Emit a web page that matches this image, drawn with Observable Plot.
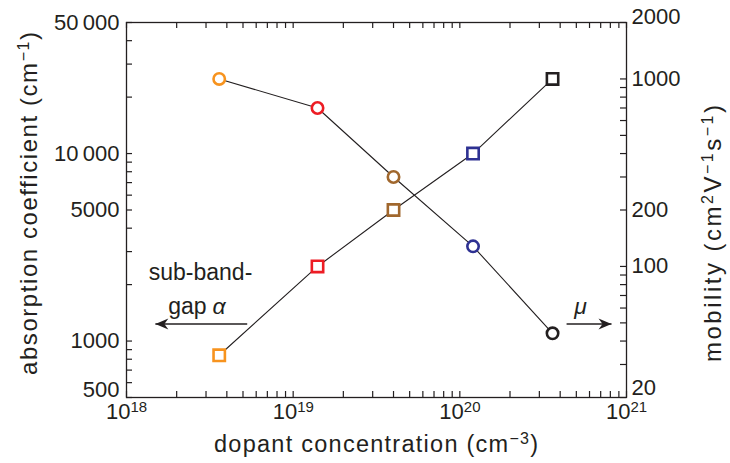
<!DOCTYPE html>
<html>
<head>
<meta charset="utf-8">
<script src="https://cdn.jsdelivr.net/npm/d3@7"></script>
<script src="https://cdn.jsdelivr.net/npm/@observablehq/plot@0.6"></script>
<style>
  html, body { margin: 0; padding: 0; background: #fff; }
  svg { display: block; }
</style>
</head>
<body>
<div id="chart"></div>
<script>
// ---- data ----
const concentration = [3.6e18, 1.4e19, 4.0e19, 1.2e20, 3.6e20];   // cm^-3
const absorption    = [840, 2500, 5000, 10000, 25000];            // cm^-1 (squares, left axis)
const mobility      = [1000, 700, 300, 128, 44];                  // cm2/Vs (circles, right axis)
const pointColors   = ["#f7931e", "#ed1c24", "#a0672d", "#2e3192", "#231f20"];

// axis tick labels
const leftTickLabels  = [1000, 5000, 10000, 50000];
const leftEndLabels   = [500];
const rightTickLabels = [100, 200, 1000];
const rightTopLabels  = [2000];
const rightEndLabels  = [20];
const xTickLabels     = [1e18, 1e19, 1e20, 1e21];

// right axis (20–2000) shares the left axis (500–50000) log scale
const mobilityFactor = 25;

// annotations (data coordinates)
const subBandText = ["sub-band-"];
const subBandPos  = [2.78e18, 2310];
const gapPos      = [3.15e18, 1520];
const muPos       = [5.3e20, 1520];
const arrowLeft   = [5.3e18, 1.49e18, 1233];
const arrowRight  = [4.37e20, 8.13e20, 1233];

const ink = "#231f20";
const font = "'Liberation Sans', Arial, Helvetica, sans-serif";

function logTicks(lo, hi) {
  const out = [];
  for (let e = Math.floor(Math.log10(lo)); e <= Math.ceil(Math.log10(hi)); e++)
    for (let m = 1; m < 10; m++) {
      const v = m * Math.pow(10, e);
      if (v >= lo * 0.999 && v <= hi * 1.001) out.push(v);
    }
  return out;
}
const xMinor = logTicks(1e18, 1e21);
const leftMinor = logTicks(500, 50000);
const rightMinor = logTicks(20, 2000).map(d => d * mobilityFactor);

const rows = concentration.map((c, i) => ({
  conc: c, abs: absorption[i], mob: mobility[i] * mobilityFactor, color: pointColors[i]
}));

const W = 730, H = 463;
const mL = 126, mR = 104, mT = 22, mB = 66;
const plotW = W - mL - mR, plotH = H - mT - mB;
const tickLen = 6;

const fmtThousands = d => d >= 10000 ? d3.format(",")(d).replace(",", "\u2009") : String(d);

const arrowHead = {
  draw(ctx) {
    const L = 13, Wd = 5.5, notch = 4;
    ctx.moveTo(0, 0);
    ctx.lineTo(-L, -Wd);
    ctx.lineTo(-L + notch, 0);
    ctx.lineTo(-L, Wd);
    ctx.closePath();
  }
};

const chart = Plot.plot({
  width: W, height: H,
  marginLeft: mL, marginRight: mR, marginTop: mT, marginBottom: mB,
  style: { fontFamily: font, fontSize: "22px", color: ink, background: "#fff" },
  x: { type: "log", domain: [1e18, 1e21], axis: null },
  y: { type: "log", domain: [500, 50000], axis: null },
  color: { type: "identity" },
  marks: [
    // minor ticks, pointing inward on all four sides
    Plot.tickY(leftMinor, { y: d => d, insetRight: plotW - tickLen, stroke: ink, strokeWidth: 1.2 }),
    Plot.tickY(rightMinor, { y: d => d, insetLeft: plotW - tickLen, stroke: ink, strokeWidth: 1.2 }),
    Plot.tickX(xMinor, { x: d => d, insetTop: plotH - tickLen, stroke: ink, strokeWidth: 1.2 }),
    Plot.tickX(xMinor, { x: d => d, insetBottom: plotH - tickLen, stroke: ink, strokeWidth: 1.2 }),
    Plot.frame({ stroke: ink, strokeWidth: 1.3 }),

    // left axis labels
    Plot.axisY({ anchor: "left", ticks: leftTickLabels, tickFormat: fmtThousands, tickSize: 0, tickPadding: 7, label: null, fontSize: 22, fill: ink }),
    Plot.axisY({ anchor: "left", ticks: leftEndLabels, tickFormat: fmtThousands, tickSize: 0, tickPadding: 7, label: null, fontSize: 22, fill: ink, dy: -8 }),
    // right axis labels (mobility)
    Plot.axisY({ anchor: "right", ticks: rightTickLabels.map(d => d * mobilityFactor), tickFormat: d => String(Math.round(d / mobilityFactor)), tickSize: 0, tickPadding: 5, label: null, fontSize: 22, fill: ink }),
    Plot.axisY({ anchor: "right", ticks: rightTopLabels.map(d => d * mobilityFactor), tickFormat: d => String(Math.round(d / mobilityFactor)), tickSize: 0, tickPadding: 5, label: null, fontSize: 22, fill: ink, dy: -6 }),
    Plot.axisY({ anchor: "right", ticks: rightEndLabels.map(d => d * mobilityFactor), tickFormat: d => String(Math.round(d / mobilityFactor)), tickSize: 0, tickPadding: 5, label: null, fontSize: 22, fill: ink, dy: -10 }),

    // x axis labels 10^n
    Plot.text(xTickLabels, { x: d => d, frameAnchor: "bottom", text: () => "10", textAnchor: "end", dx: 4, dy: 21, fontSize: 22, fill: ink }),
    Plot.text(xTickLabels, { x: d => d, frameAnchor: "bottom", text: d => String(Math.round(Math.log10(d))), textAnchor: "start", dx: 4, dy: 14, fontSize: 15, fill: ink }),

    // data
    Plot.line(rows, { x: "conc", y: "abs", stroke: ink, strokeWidth: 1.1 }),
    Plot.line(rows, { x: "conc", y: "mob", stroke: ink, strokeWidth: 1.1 }),
    Plot.dot(rows, { x: "conc", y: "abs", symbol: "square", r: 6.4, stroke: "color", fill: "white", strokeWidth: 2.6 }),
    Plot.dot(rows, { x: "conc", y: "mob", symbol: "circle", r: 5.7, stroke: "color", fill: "white", strokeWidth: 2.6 }),

    // annotations
    Plot.text(subBandText, { x: () => subBandPos[0], y: () => subBandPos[1], text: d => d, textAnchor: "middle", fontSize: 23, fill: ink, ariaLabel: "annot" }),
    Plot.text(["gap"], { x: () => gapPos[0], y: () => gapPos[1], text: d => d, textAnchor: "end", dx: -3, fontSize: 23, fill: ink, ariaLabel: "annot" }),
    Plot.text(["α"], { x: () => gapPos[0], y: () => gapPos[1], text: d => d, textAnchor: "start", dx: 3, fontSize: 23, fontStyle: "italic", fill: ink }),
    Plot.text(["μ"], { x: () => muPos[0], y: () => muPos[1], text: d => d, textAnchor: "middle", fontSize: 23, fontStyle: "italic", fill: ink }),
    Plot.link([arrowLeft], { x1: d => d[0], x2: d => d[1], y1: d => d[2], y2: d => d[2], stroke: ink, strokeWidth: 1.3 }),
    Plot.link([arrowRight], { x1: d => d[0], x2: d => d[1], y1: d => d[2], y2: d => d[2], stroke: ink, strokeWidth: 1.3 }),
    Plot.dot([arrowLeft], { x: d => d[1], y: d => d[2], symbol: arrowHead, r: 5, fill: ink, stroke: "none", rotate: 180 }),
    Plot.dot([arrowRight], { x: d => d[1], y: d => d[2], symbol: arrowHead, r: 5, fill: ink, stroke: "none" })
  ]
});

// letter spacing for annotation words (wider set in the reference)
d3.select(chart).selectAll('g[aria-label="annot"] text').attr("letter-spacing", "1.4px");

// axis titles with superscripts
const svg = d3.select(chart);
function title(parts, transform, length, size) {
  const t = svg.append("text")
    .attr("transform", transform)
    .attr("text-anchor", "middle")
    .attr("fill", ink)
    .attr("font-family", font)
    .attr("font-size", size)
    .attr("textLength", length)
    .attr("lengthAdjust", "spacing");
  let shift = 0;
  for (const [s, sup] of parts) {
    const target = sup ? -8.5 : 0;
    t.append("tspan")
      .attr("dy", target - shift)
      .attr("font-size", sup ? 16 : size)
      .text(s);
    shift = target;
  }
  return t;
}
title([["dopant concentration (cm", false], ["\u22123", true], [")", false]],
      "translate(376,452)", 324, 23.5);
title([["absorption coefficient (cm", false], ["\u22121", true], [")", false]],
      "translate(37,203.5) rotate(-90)", 343, 24);
title([["mobility (cm", false], ["2", true], ["V", false], ["\u22121", true], ["s", false], ["\u22121", true], [")", false]],
      "translate(721,233.5) rotate(-90)", 257, 24);

document.getElementById("chart").appendChild(chart);
</script>
</body>
</html>
